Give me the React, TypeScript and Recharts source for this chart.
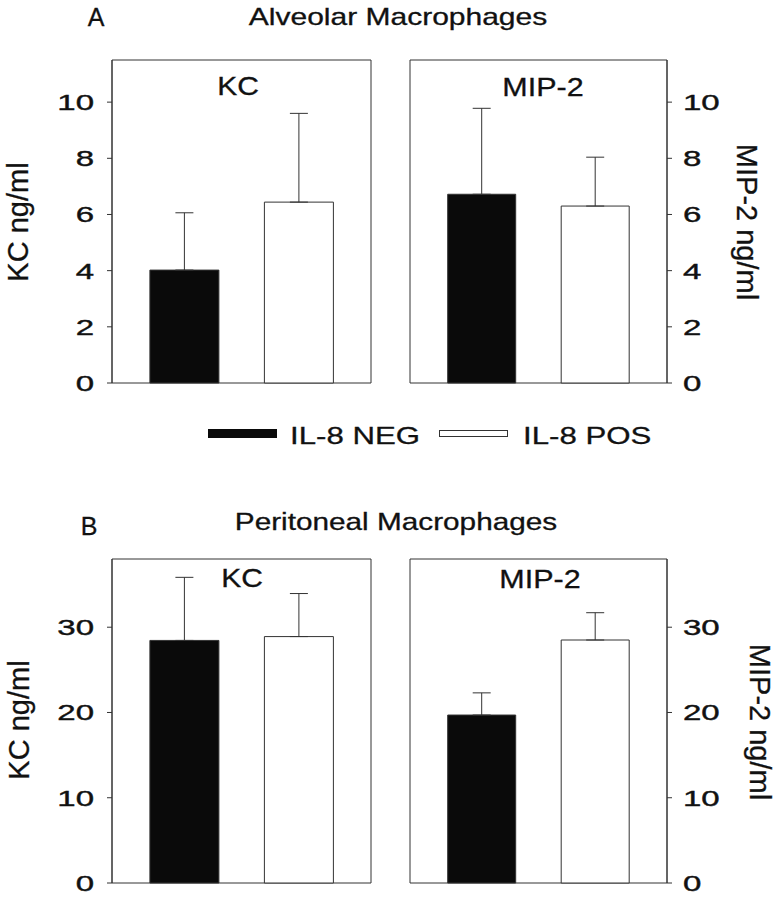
import { BarChart, Bar, Cell, XAxis, YAxis, ErrorBar, CartesianGrid } from 'recharts'

const groups = ['IL-8 NEG', 'IL-8 POS']
const groupFills = ['#0a0a0a', '#ffffff']

// Alveolar macrophages (ng/ml), mean and upper SD
const alveolarKC = [4.02, 6.44]
const alveolarKCErr = [2.04, 3.16]
const alveolarMIP2 = [6.72, 6.3]
const alveolarMIP2Err = [3.06, 1.74]

// Peritoneal macrophages (ng/ml)
const peritonealKC = [28.45, 28.9]
const peritonealKCErr = [7.4, 5.05]
const peritonealMIP2 = [19.7, 28.5]
const peritonealMIP2Err = [2.6, 3.2]

const alveolarTicks = [0, 2, 4, 6, 8, 10]
const alveolarMax = 11.5
const peritonealTicks = [0, 10, 20, 30]
const peritonealMax = 38

const FONT = '"Liberation Sans", Arial, Helvetica, sans-serif'
const INK = '#111'
const LINE = '#333'

const toRows = (values: number[], errs: number[]) =>
  groups.map((group, i) => ({ group, value: values[i], err: [0, errs[i]] }))

function WideTick(props: any) {
  const { x, y, payload, anchor } = props
  return (
    <text
      transform={`translate(${x},${y}) scale(1.5,1)`}
      textAnchor={anchor}
      dy="0.36em"
      fontSize={22}
      fontFamily={FONT}
      fill={INK}
      stroke={INK}
      strokeWidth={0.4}
    >
      {payload.value}
    </text>
  )
}

function Wide({ x, y, k = 1, size = 24, anchor = 'middle', children }: any) {
  return (
    <text
      transform={`translate(${x},${y}) scale(${k},1)`}
      textAnchor={anchor}
      fontSize={size}
      fontFamily={FONT}
      fill={INK}
      stroke={INK}
      strokeWidth={0.3}
    >
      {children}
    </text>
  )
}

function AxisTitle({ x, y, angle, children }: any) {
  return (
    <text
      transform={`translate(${x},${y}) rotate(${angle})`}
      textAnchor="middle"
      fontSize={29}
      fontFamily={FONT}
      fill={INK}
      stroke={INK}
      strokeWidth={0.3}
    >
      {children}
    </text>
  )
}

interface PanelProps {
  rows: { group: string; value: number; err: number[] }[]
  ticks: number[]
  max: number
  side: 'left' | 'right'
  left: number
  top: number
  marginTop: number
  marginBottom: number
}

function Panel({ rows, ticks, max, side, left, top, marginTop, marginBottom }: PanelProps) {
  const isLeft = side === 'left'
  const width = isLeft ? 390 : 389
  const margin = isLeft
    ? { top: marginTop, bottom: marginBottom, left: 52, right: 19 }
    : { top: marginTop, bottom: marginBottom, left: 20, right: 52 }

  return (
    <div style={{ position: 'absolute', left, top }}>
      <BarChart width={width} height={419} data={rows} margin={margin} barCategoryGap="20%">
        {/* frame round the plot area */}
        <CartesianGrid
          stroke={LINE}
          strokeWidth={1}
          horizontalCoordinatesGenerator={({ offset }: any) => [offset.top, offset.top + offset.height]}
          verticalCoordinatesGenerator={({ offset }: any) => [offset.left, offset.left + offset.width]}
        />
        <XAxis
          dataKey="group"
          tick={false}
          tickLine={false}
          height={0}
          padding={{ left: 15, right: 15 }}
          axisLine={{ stroke: LINE }}
        />
        <YAxis
          orientation={side}
          domain={[0, max]}
          ticks={ticks}
          width={60}
          tickSize={5}
          tickMargin={isLeft ? 13 : 11}
          axisLine={{ stroke: LINE }}
          tickLine={{ stroke: LINE }}
          tick={(p: any) => <WideTick {...p} anchor={isLeft ? 'end' : 'start'} />}
        />
        <Bar dataKey="value" stroke={LINE} strokeWidth={1} isAnimationActive={false}>
          {rows.map((r, i) => (
            <Cell key={r.group} fill={groupFills[i]} />
          ))}
          <ErrorBar dataKey="err" direction="y" width={9} stroke={LINE} strokeWidth={1} />
        </Bar>
      </BarChart>
    </div>
  )
}

export default function App() {
  return (
    <div
      style={{
        position: 'absolute',
        left: 0,
        top: 0,
        width: 779,
        height: 899,
        background: '#fff',
        fontFamily: FONT,
        overflow: 'hidden',
      }}
    >
      <Panel rows={toRows(alveolarKC, alveolarKCErr)} ticks={alveolarTicks} max={alveolarMax}
        side="left" left={0} top={0} marginTop={60} marginBottom={36} />
      <Panel rows={toRows(alveolarMIP2, alveolarMIP2Err)} ticks={alveolarTicks} max={alveolarMax}
        side="right" left={390} top={0} marginTop={60} marginBottom={36} />
      <Panel rows={toRows(peritonealKC, peritonealKCErr)} ticks={peritonealTicks} max={peritonealMax}
        side="left" left={0} top={480} marginTop={79} marginBottom={16} />
      <Panel rows={toRows(peritonealMIP2, peritonealMIP2Err)} ticks={peritonealTicks} max={peritonealMax}
        side="right" left={390} top={480} marginTop={79} marginBottom={16} />

      <svg width={779} height={899} style={{ position: 'absolute', left: 0, top: 0, pointerEvents: 'none' }}>
        {/* panel A headings */}
        <Wide x={96} y={26} size={25}>A</Wide>
        <Wide x={398} y={25} k={1.25}>Alveolar Macrophages</Wide>
        <Wide x={238} y={95} size={25} k={1.2}>KC</Wide>
        <Wide x={543} y={96} size={25} k={1.22}>MIP-2</Wide>
        <AxisTitle x={28} y={222} angle={-90}>KC ng/ml</AxisTitle>
        <AxisTitle x={737} y={222} angle={90}>MIP-2 ng/ml</AxisTitle>

        {/* legend */}
        <rect x={208} y={429} width={69} height={9} fill={groupFills[0]} />
        <Wide x={290} y={444} k={1.3} anchor="start">{groups[0]}</Wide>
        <rect x={439.5} y={430.5} width={68} height={6} fill={groupFills[1]} stroke={LINE} />
        <Wide x={523} y={444} k={1.3} anchor="start">{groups[1]}</Wide>

        {/* panel B headings */}
        <Wide x={89} y={535} size={25}>B</Wide>
        <Wide x={396} y={530} k={1.24}>Peritoneal Macrophages</Wide>
        <Wide x={242} y={587} size={25} k={1.2}>KC</Wide>
        <Wide x={540} y={588} size={25} k={1.22}>MIP-2</Wide>
        <AxisTitle x={29} y={720} angle={-90}>KC ng/ml</AxisTitle>
        <AxisTitle x={750} y={722} angle={90}>MIP-2 ng/ml</AxisTitle>
      </svg>
    </div>
  )
}
